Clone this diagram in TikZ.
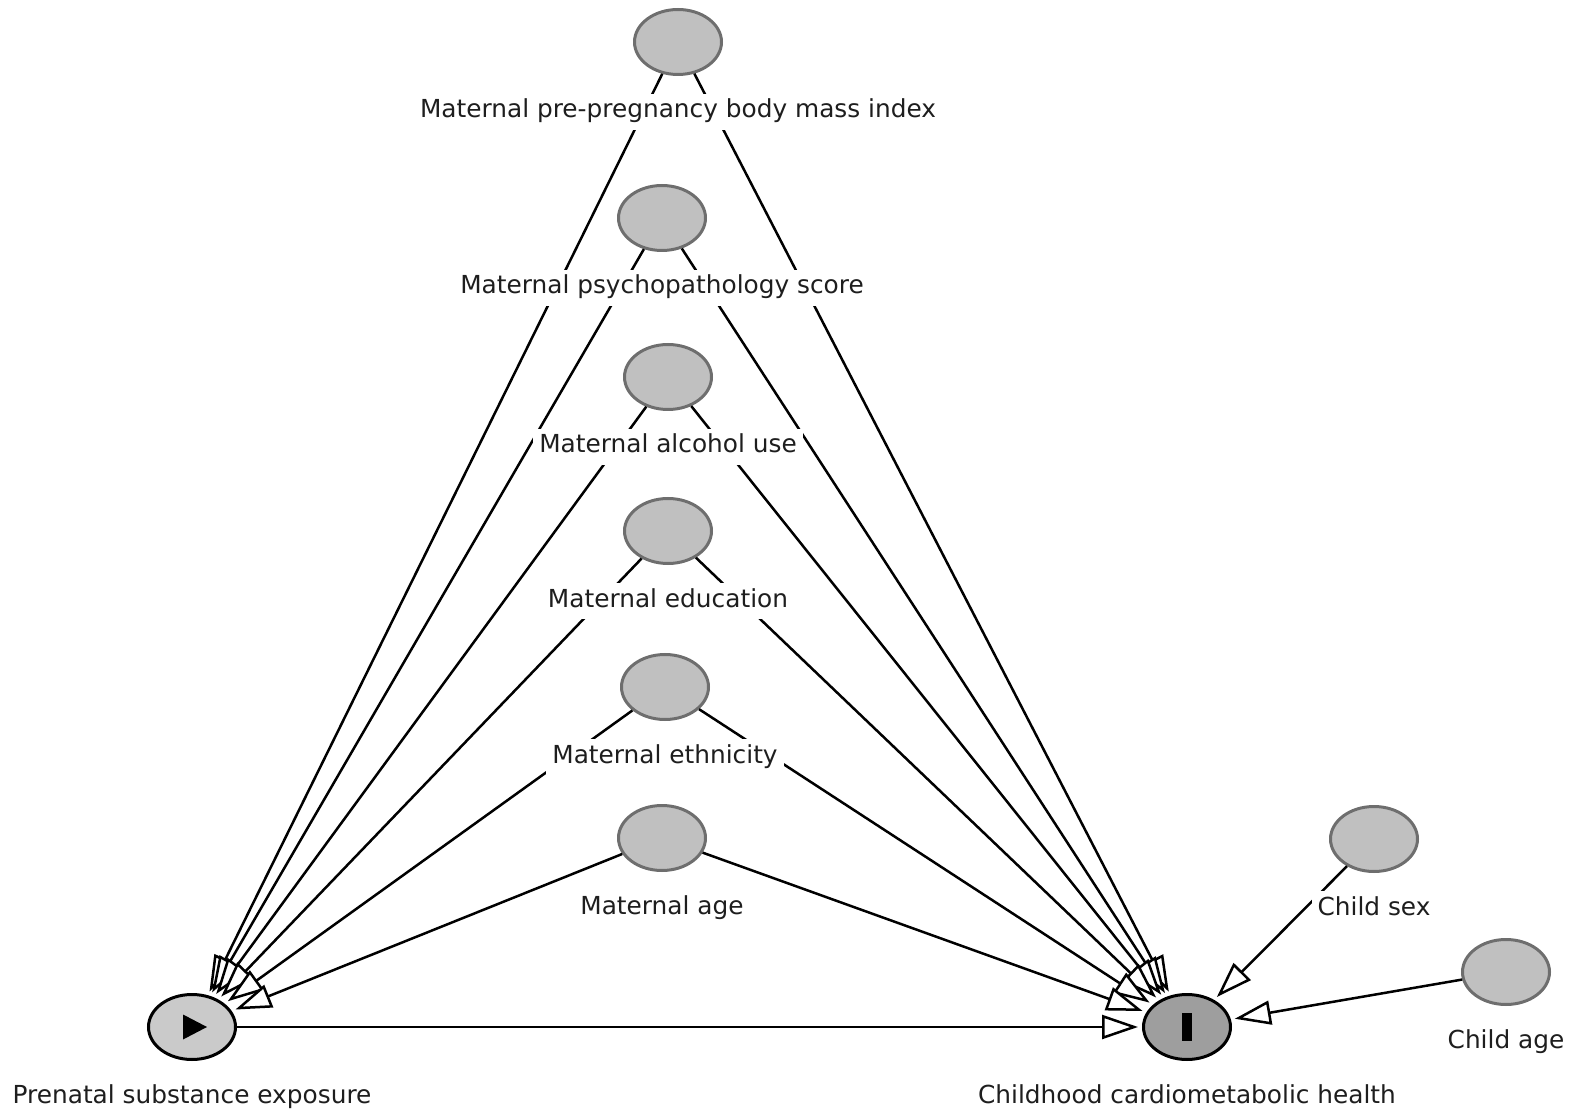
\documentclass[tikz,border=0pt]{standalone}
\usepackage{fontspec}
\setmainfont{DejaVu Sans}
\usepackage{xcolor}
\usetikzlibrary{shapes.geometric}
\usetikzlibrary{arrows.meta}
\definecolor{varfill}{HTML}{C0C0C0}
\definecolor{vardraw}{HTML}{6E6E6E}
\definecolor{expofill}{HTML}{CACACA}
\definecolor{outcfill}{HTML}{9E9E9E}
\definecolor{lbltext}{HTML}{1E1E1E}
\tikzset{
	var node/.style={ellipse,draw=vardraw,fill=varfill,line width=1.5pt,
		minimum width=43.5pt,minimum height=32.5pt,inner sep=0pt},
	expo node/.style={var node,draw=black,fill=expofill},
	outc node/.style={var node,draw=black,fill=outcfill},
	lbl/.style={fill=white,inner sep=3pt,anchor=base,text=lbltext,
		font=\fontsize{12.4}{15}\selectfont,text height=9pt,text depth=3pt}
}

\begin{document}
\begin{tikzpicture}[x=0.5pt,y=-0.5pt,->,>={Triangle[length=18pt,width=12pt,fill=white]},line width=1.25pt,shorten >=2pt]
	\useasboundingbox (0,0) rectangle (1575,1112);
	% variables
	\node [var node] (bmi) at (678,42) {};
	\node [var node] (psy) at (662,218) {};
	\node [var node] (alc) at (668,377) {};
	\node [var node] (edu) at (668,531) {};
	\node [var node] (eth) at (665,687) {};
	\node [var node] (age) at (662,838) {};
	\node [var node] (csex) at (1374,839) {};
	\node [var node] (cage) at (1506,972) {};
	\node [expo node] (expo) at (192,1027) {};
	\node [outc node] (outc) at (1187,1027) {};
	\fill[-] ([shift={(-9,-12.5)}]expo.center) -- ++(24,12.5) -- ++(-24,12.5) -- cycle;
	\fill[-] ([shift={(-5,-14)}]outc.center) rectangle ++(10,28);
	% arrows
	\draw (bmi) -- (expo);
	\draw (bmi) -- (outc);
	\draw (psy) -- (expo);
	\draw (psy) -- (outc);
	\draw (alc) -- (expo);
	\draw (alc) -- (outc);
	\draw (edu) -- (expo);
	\draw (edu) -- (outc);
	\draw (eth) -- (expo);
	\draw (eth) -- (outc);
	\draw (age) -- (expo);
	\draw (age) -- (outc);
	\draw (csex) -- (outc);
	\draw (cage) -- (outc);
	\draw (expo) -- (outc);
	% labels
	\node [lbl] (bmiL) at ([yshift=-38pt]bmi.center) {Maternal pre-pregnancy body mass index};
	\node [lbl] (psyL) at ([yshift=-38pt]psy.center) {Maternal psychopathology score};
	\node [lbl] (alcL) at ([yshift=-38pt]alc.center) {Maternal alcohol use};
	\node [lbl] (eduL) at ([yshift=-38pt]edu.center) {Maternal education};
	\node [lbl] (ethL) at ([yshift=-38pt]eth.center) {Maternal ethnicity};
	\node [lbl] (ageL) at ([yshift=-38pt]age.center) {Maternal age};
	\node [lbl] (csexL) at ([yshift=-38pt]csex.center) {Child sex};
	\node [lbl] (cageL) at ([yshift=-38pt]cage.center) {Child age};
	\node [lbl] (expoL) at ([yshift=-38pt]expo.center) {Prenatal substance exposure};
	\node [lbl] (outcL) at ([yshift=-38pt]outc.center) {Childhood cardiometabolic health};
\end{tikzpicture}
\end{document}
